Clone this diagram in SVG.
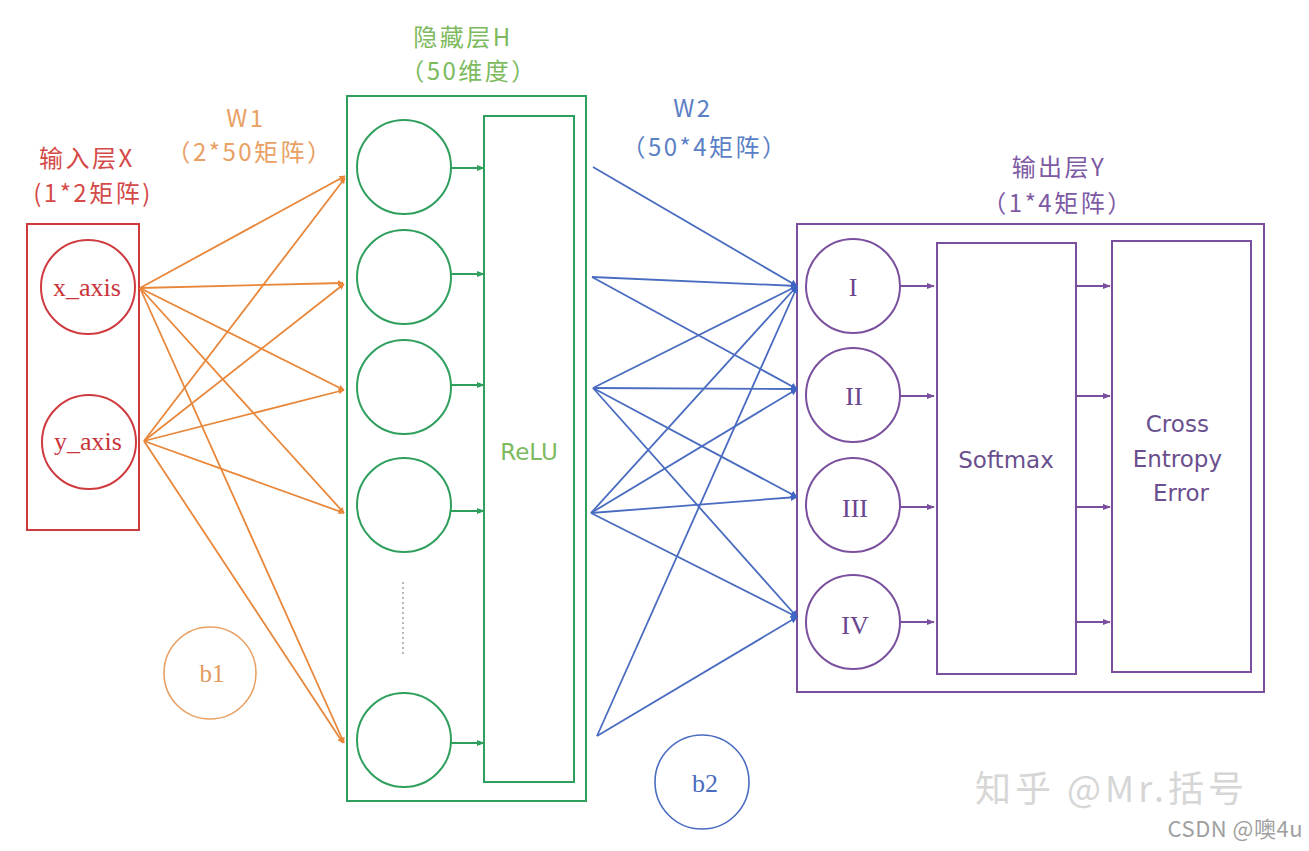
<svg xmlns="http://www.w3.org/2000/svg" width="1309" height="851" viewBox="0 0 1309 851">
<defs>
<style>
.sans{font-family:"DejaVu Sans","Noto Sans",sans-serif;}
.cjk{font-family:"Noto Sans CJK SC","Noto Sans",sans-serif;font-size:24px;letter-spacing:2.5px;}
.serif{font-family:"Liberation Serif","DejaVu Serif",serif;}
.wm{font-family:"Noto Sans CJK SC","Noto Sans",sans-serif;}
.red{stroke:#cf3a3e;fill:none;stroke-width:2}
.grn{stroke:#2e9f5c;fill:none;stroke-width:2}
.pur{stroke:#7a4f9e;fill:none;stroke-width:2}
.org{stroke:#e8873a;fill:none;stroke-width:1.8}
.blu{stroke:#4a6cc0;fill:none;stroke-width:1.8}
</style>
<marker id="ao" viewBox="0 0 10 10" refX="9" refY="5" markerWidth="6" markerHeight="6" orient="auto" markerUnits="userSpaceOnUse"><path d="M0,0 L10,5 L0,10 z" fill="#e8873a"/></marker>
<marker id="ab" viewBox="0 0 10 10" refX="9" refY="5" markerWidth="7" markerHeight="7" orient="auto" markerUnits="userSpaceOnUse"><path d="M0,0 L10,5 L0,10 z" fill="#3f66c4"/></marker>
<marker id="ag" viewBox="0 0 10 10" refX="9" refY="5" markerWidth="8" markerHeight="8" orient="auto" markerUnits="userSpaceOnUse"><path d="M0,1 L10,5 L0,9 z" fill="#2e9f5c"/></marker>
<marker id="ap" viewBox="0 0 10 10" refX="9" refY="5" markerWidth="8" markerHeight="8" orient="auto" markerUnits="userSpaceOnUse"><path d="M0,1 L10,5 L0,9 z" fill="#7a4f9e"/></marker>
</defs>
<rect width="1309" height="851" fill="#ffffff"/>

<!-- labels -->
<g id="label-input" class="cjk" fill="#d44a48" text-anchor="middle">
<text x="87" y="167">输入层X</text>
<text x="93" y="202">(1*2矩阵)</text>
</g>
<g id="label-w1" class="cjk" fill="#e9a064" text-anchor="middle">
<text x="246" y="127">W1</text>
<text x="250" y="161">（2*50矩阵）</text>
</g>
<g id="label-hidden" class="cjk" fill="#7dba5e" text-anchor="middle">
<text x="463" y="46">隐藏层H</text>
<text x="469" y="80">（50维度）</text>
</g>
<g id="label-w2" class="cjk" fill="#5b80c6" text-anchor="middle">
<text x="693" y="117">W2</text>
<text x="705" y="156">（50*4矩阵）</text>
</g>
<g id="label-output" class="cjk" fill="#7d5aa3" text-anchor="middle">
<text x="1059" y="176">输出层Y</text>
<text x="1058" y="212">（1*4矩阵）</text>
</g>

<!-- input layer -->
<g id="input-layer">
<rect class="red" x="27" y="224" width="112" height="306"/>
</g>
<g id="node-x_axis">
<circle class="red" cx="88" cy="287" r="47"/>
<text class="serif" x="87" y="296" font-size="26" fill="#c8343a" text-anchor="middle">x_axis</text>
</g>
<g id="node-y_axis">
<circle class="red" cx="89" cy="442" r="47"/>
<text class="serif" x="88" y="450" font-size="26" fill="#c8343a" text-anchor="middle">y_axis</text>
</g>

<!-- bias b1 -->
<g id="node-b1">
<circle stroke="#e8a064" stroke-width="1.6" fill="none" cx="210" cy="673" r="46"/>
<text class="serif" x="212" y="682" font-size="25" fill="#e39a5c" text-anchor="middle">b1</text>
</g>

<!-- hidden layer -->
<g id="hidden-layer">
<rect class="grn" x="347" y="96" width="239" height="705"/>
</g>
<g id="node-h1"><circle class="grn" cx="404" cy="167" r="47"/></g>
<g id="node-h2"><circle class="grn" cx="404" cy="277" r="47"/></g>
<g id="node-h3"><circle class="grn" cx="404" cy="387" r="47"/></g>
<g id="node-h4"><circle class="grn" cx="404" cy="505" r="47"/></g>
<g id="node-dots"><line x1="403" y1="582" x2="403" y2="657" stroke="#9aa89c" stroke-width="1.5" stroke-dasharray="2,3"/></g>
<g id="node-h50"><circle class="grn" cx="404" cy="740" r="47"/></g>
<g id="node-relu">
<rect class="grn" x="484" y="116" width="90" height="666"/>
<text class="sans" x="529" y="460" font-size="23" fill="#7dba5e" text-anchor="middle">ReLU</text>
</g>

<!-- bias b2 -->
<g id="node-b2">
<circle stroke="#4a6cc0" stroke-width="1.6" fill="none" cx="702" cy="782" r="47"/>
<text class="serif" x="705" y="792" font-size="26" fill="#4a6cc0" text-anchor="middle">b2</text>
</g>

<!-- output layer -->
<g id="output-layer">
<rect class="pur" x="797" y="224" width="467" height="468"/>
</g>
<g id="node-I">
<circle class="pur" cx="853" cy="286" r="47"/>
<text class="serif" x="853" y="296" font-size="26" fill="#6a4590" text-anchor="middle">I</text>
</g>
<g id="node-II">
<circle class="pur" cx="853" cy="395" r="47"/>
<text class="serif" x="854" y="405" font-size="26" fill="#6a4590" text-anchor="middle">II</text>
</g>
<g id="node-III">
<circle class="pur" cx="853" cy="505" r="47"/>
<text class="serif" x="855" y="517" font-size="26" fill="#6a4590" text-anchor="middle">III</text>
</g>
<g id="node-IV">
<circle class="pur" cx="853" cy="622" r="47"/>
<text class="serif" x="855" y="634" font-size="26" fill="#6a4590" text-anchor="middle">IV</text>
</g>
<g id="node-softmax">
<rect class="pur" x="937" y="243" width="139" height="431"/>
<text class="sans" x="1006" y="468" font-size="23" fill="#6a4f8e" text-anchor="middle">Softmax</text>
</g>
<g id="node-cross-entropy">
<rect class="pur" x="1112" y="241" width="139" height="431"/>
<text class="sans" font-size="23" fill="#6a4f8e" text-anchor="middle">
<tspan x="1181" y="432">Cross</tspan>
<tspan x="1181" y="467">Entropy</tspan>
<tspan x="1181" y="501">Error</tspan>
</text>
</g>

<!-- connectors -->
<g id="connectors">
<g class="org" marker-end="url(#ao)">
<line x1="140" y1="288" x2="345" y2="176"/>
<line x1="140" y1="288" x2="343" y2="283"/>
<line x1="140" y1="288" x2="344" y2="390"/>
<line x1="140" y1="288" x2="344" y2="513"/>
<line x1="140" y1="288" x2="344" y2="743"/>
<line x1="144" y1="441" x2="345" y2="178"/>
<line x1="144" y1="441" x2="344" y2="284"/>
<line x1="144" y1="441" x2="344" y2="390"/>
<line x1="144" y1="441" x2="344" y2="513"/>
<line x1="144" y1="441" x2="343" y2="743"/>
</g>
<g class="grn" stroke-width="2" marker-end="url(#ag)">
<line x1="451" y1="168" x2="484" y2="168"/>
<line x1="451" y1="274" x2="484" y2="274"/>
<line x1="451" y1="385" x2="484" y2="385"/>
<line x1="451" y1="511" x2="484" y2="511"/>
<line x1="451" y1="743" x2="484" y2="743"/>
</g>
<g class="blu" marker-end="url(#ab)">
<line x1="593" y1="167" x2="797" y2="286"/>
<line x1="592" y1="277" x2="797" y2="286"/>
<line x1="592" y1="277" x2="797" y2="389"/>
<line x1="593" y1="388" x2="797" y2="286"/>
<line x1="593" y1="388" x2="797" y2="389"/>
<line x1="593" y1="388" x2="797" y2="497"/>
<line x1="593" y1="388" x2="797" y2="617"/>
<line x1="591" y1="513" x2="797" y2="286"/>
<line x1="591" y1="513" x2="797" y2="389"/>
<line x1="591" y1="513" x2="797" y2="497"/>
<line x1="591" y1="513" x2="797" y2="617"/>
<line x1="597" y1="736" x2="797" y2="287"/>
<line x1="597" y1="736" x2="797" y2="617"/>
</g>
<g class="pur" stroke-width="1.8" marker-end="url(#ap)">
<line x1="900" y1="286" x2="934" y2="286"/>
<line x1="900" y1="396" x2="934" y2="396"/>
<line x1="900" y1="507" x2="934" y2="507"/>
<line x1="900" y1="622" x2="934" y2="622"/>
<line x1="1076" y1="286" x2="1110" y2="286"/>
<line x1="1076" y1="396" x2="1110" y2="396"/>
<line x1="1076" y1="507" x2="1110" y2="507"/>
<line x1="1076" y1="622" x2="1110" y2="622"/>
</g>
</g>

<!-- watermarks -->
<g id="watermark">
<text class="wm" x="975" y="802" font-size="36" letter-spacing="4" fill="#d6d6d6">知乎 @Mr.括号</text>
<text class="wm" x="1303" y="837" font-size="22" letter-spacing="0.5" fill="#a0a0a0" text-anchor="end">CSDN @噢4u</text>
</g>
</svg>
